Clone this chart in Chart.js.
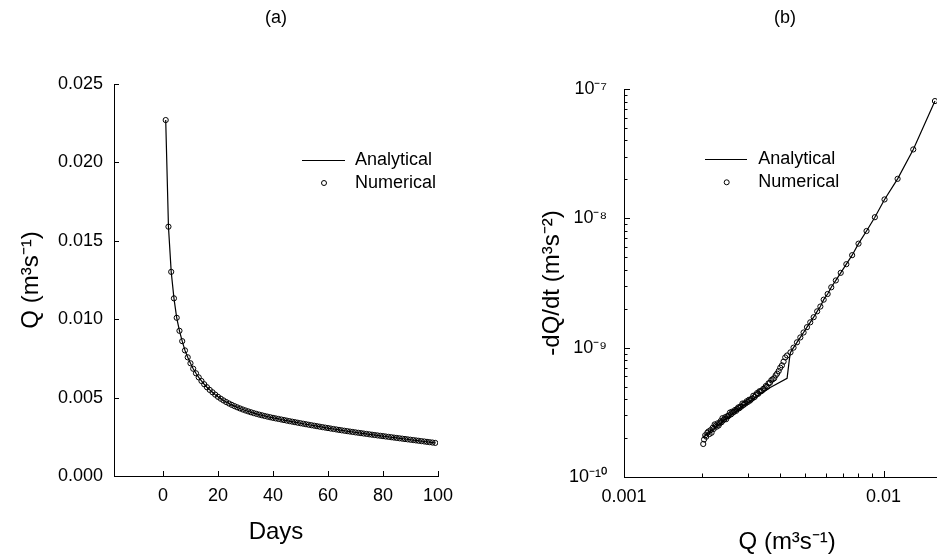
<!DOCTYPE html>
<html><head><meta charset="utf-8">
<script src="https://cdn.jsdelivr.net/npm/chart.js@4/dist/chart.umd.min.js"></script>
<style>
html,body{margin:0;padding:0;background:#fff;overflow:hidden}
#wrap{position:relative;width:937px;height:559px;overflow:hidden;background:#fff}
#ca{position:absolute;left:0;top:0}
#cb{position:absolute;left:470px;top:0}
</style></head><body>
<div id="wrap"><canvas id="ca" width="470" height="559"></canvas><canvas id="cb" width="484" height="559"></canvas></div>
<script>
// ---------- Panel (a): Q vs Days ----------
const days = [1,2,3,4,5,6,7,8,9,10,11,12,13,14,15,16,17,18,19,20,21,22,23,24,25,26,27,28,29,30,
  31,32,33,34,35,36,37,38,39,40,41,42,43,44,45,46,47,48,49,50,51,52,53,54,55,56,57,58,59,60,
  61,62,63,64,65,66,67,68,69,70,71,72,73,74,75,76,77,78,79,80,81,82,83,84,85,86,87,88,89,90,
  91,92,93,94,95,96,97,98,99];
const qDays = [0.02270,0.01590,0.01302,0.01133,0.01009,0.00926,0.00860,0.00801,0.00757,0.00719,
  0.00684,0.00655,0.00629,0.00606,0.00585,0.00566,0.00549,0.00534,0.00519,0.00505,
  0.004930,0.004820,0.004718,0.004624,0.004537,0.004456,0.004380,0.004309,0.004242,0.004179,
  0.004120,0.004064,0.004011,0.003961,0.003914,0.003869,0.003826,0.003785,0.003746,0.003709,
  0.003673,0.003638,0.003603,0.003568,0.003533,0.003499,0.003465,0.003432,0.003399,0.003366,
  0.003333,0.003301,0.003269,0.003238,0.003207,0.003176,0.003145,0.003115,0.003085,0.003056,
  0.003026,0.002997,0.002969,0.002941,0.002913,0.002886,0.002860,0.002834,0.002808,0.002782,
  0.002757,0.002732,0.002708,0.002683,0.002659,0.002635,0.002612,0.002588,0.002565,0.002542,
  0.002519,0.002496,0.002473,0.002450,0.002427,0.002404,0.002381,0.002358,0.002336,0.002313,
  0.002291,0.002268,0.002246,0.002223,0.002201,0.002178,0.002156,0.002133,0.002111];
const xTicksA = [0,20,40,60,80,100];
const xTickLabelsA = ['0','20','40','60','80','100'];
const yTicksA = [0,0.005,0.010,0.015,0.020,0.025];
const yTickLabelsA = ['0.000','0.005','0.010','0.015','0.020','0.025'];

// ---------- Panel (b): -dQ/dt vs Q (log-log) ----------
const qNum = [0.01578,0.01302,0.01133,0.01009,0.00926,0.00860,0.00801,0.00757,0.00719,0.00684,
  0.00655,0.00629,0.00609,0.00588,0.00571,0.00555,0.00538,0.00522,0.00507,0.00492,
  0.00478,0.00464,0.00450,0.00438,0.00425,0.00418,
  0.004120,0.004060,0.004000,0.003945,0.003890,0.003840,0.003790,0.003740,0.003695,0.003650,
  0.003605,0.003560,0.003520,0.003480,0.003440,0.003400,0.003360,0.003325,0.003290,0.003255,
  0.003220,0.003185,0.003150,0.003120,0.003090,0.003060,0.003030,0.003000,0.002970,0.002940,
  0.002910,0.002885,0.002860,0.002830,0.002805,0.002780,0.002755,0.002730,0.002705,0.002680,
  0.002655,0.002630,0.002610,0.002585,0.002560,0.002540,0.002520,0.002500,0.002475,0.002455,
  0.002435,0.002415,0.002395,0.002375,0.002355,0.002335,0.002315,0.002295,0.002275,0.002255,
  0.002235,0.002215,0.002195,0.002175,0.002155,0.002135,0.002115,0.002095,0.002075,0.002055,
  0.002035,0.002020];
const rateNum = [8.07e-8,3.41e-8,2.02e-8,1.40e-8,1.02e-8,7.98e-9,6.37e-9,5.19e-9,4.42e-9,3.79e-9,
  3.31e-9,2.93e-9,2.60e-9,2.35e-9,2.08e-9,1.91e-9,1.72e-9,1.57e-9,1.44e-9,1.31e-9,
  1.20e-9,1.10e-9,1.00e-9,9.2e-10,8.7e-10,8.4e-10,
  7.8e-10,7.3e-10,7.0e-10,6.6e-10,6.3e-10,6.1e-10,5.8e-10,5.7e-10,5.6e-10,5.35e-10,
  5.3e-10,5.0e-10,5.05e-10,4.85e-10,4.8e-10,4.65e-10,4.6e-10,4.6e-10,4.4e-10,4.45e-10,
  4.3e-10,4.15e-10,4.25e-10,4.05e-10,4.0e-10,3.9e-10,3.95e-10,3.8e-10,3.85e-10,3.7e-10,
  3.7e-10,3.6e-10,3.7e-10,3.5e-10,3.5e-10,3.4e-10,3.45e-10,3.35e-10,3.25e-10,3.3e-10,
  3.2e-10,3.15e-10,3.2e-10,3.05e-10,3.15e-10,3.0e-10,2.95e-10,2.95e-10,2.8e-10,2.9e-10,
  2.8e-10,2.75e-10,2.85e-10,2.65e-10,2.7e-10,2.6e-10,2.5e-10,2.6e-10,2.45e-10,2.5e-10,
  2.55e-10,2.35e-10,2.4e-10,2.2e-10,2.3e-10,2.15e-10,2.25e-10,2.2e-10,2.05e-10,2.1e-10,
  1.95e-10,1.8e-10];
const qAna = [0.01578,0.01302,0.01133,0.01009,0.00926,0.00860,0.00801,0.00757,0.00719,0.00684,
  0.00655,0.00629,0.00609,0.00588,0.00571,0.00555,0.00538,0.00522,0.00507,0.00492,
  0.00478,0.00464,0.00450,0.00438,0.00434,0.00425,0.00366,0.00325,0.00288,0.00241,0.00202];
const rateAna = [8.07e-8,3.41e-8,2.02e-8,1.40e-8,1.02e-8,7.98e-9,6.37e-9,5.19e-9,4.42e-9,3.79e-9,
  3.31e-9,2.93e-9,2.60e-9,2.35e-9,2.08e-9,1.91e-9,1.72e-9,1.57e-9,1.44e-9,1.31e-9,
  1.20e-9,1.10e-9,1.00e-9,9.2e-10,8.2e-10,5.8e-10,4.92e-10,4.17e-10,3.55e-10,2.71e-10,2.02e-10];
const xTicksB = [0.001,0.01];
const xTickLabelsB = ['0.001','0.01'];
const yTicksB = [1e-10,1e-9,1e-8,1e-7];
const yTickLabelsB = ['10\u207B\u00B9\u2070','10\u207B\u2079','10\u207B\u2078','10\u207B\u2077'];

const FONT = "'Liberation Sans', Arial, Helvetica, sans-serif";
Chart.defaults.font.family = FONT;
Chart.defaults.color = '#000';

function pts(xs, ys){ return xs.map((x,i)=>({x:x, y:ys[i]})); }
function logTicks(min, max){
  const out = [];
  for (let e = Math.floor(Math.log10(min)); e <= Math.ceil(Math.log10(max)); e++){
    for (let m = 1; m <= 9; m++){
      const v = m * Math.pow(10, e);
      if (v >= min*0.999 && v <= max*1.001) out.push({value: v, major: m === 1});
    }
  }
  return out;
}
function lookup(vals, labels, v){
  const i = vals.findIndex(t => Math.abs(t - v) <= Math.abs(t)*1e-6 + 1e-12);
  return i >= 0 ? labels[i] : '';
}

const inTicks = {
  id: 'inTicks',
  afterDraw(chart, args, o){
    const {ctx, chartArea: a} = chart; const xs = chart.scales.x, ys = chart.scales.y;
    ctx.save(); ctx.strokeStyle = '#000'; ctx.lineWidth = 1;
    for (const t of xs.ticks){
      const p = Math.round(xs.getPixelForValue(t.value)) + 0.5;
      if (p < a.left - 1 || p > a.right + 1) continue;
      const L = t.major ? o.major : o.minor;
      ctx.beginPath(); ctx.moveTo(p, a.bottom); ctx.lineTo(p, a.bottom - L); ctx.stroke();
    }
    for (const t of ys.ticks){
      const p = Math.round(ys.getPixelForValue(t.value)) + 0.5;
      const L = t.major ? o.major : o.minor;
      ctx.beginPath(); ctx.moveTo(a.left, p); ctx.lineTo(a.left + L, p); ctx.stroke();
    }
    ctx.restore();
  }
};
const deco = {
  id: 'deco',
  afterDraw(chart, args, o){
    const ctx = chart.ctx; ctx.save();
    ctx.fillStyle = '#000'; ctx.strokeStyle = '#000';
    ctx.font = '18px ' + FONT; ctx.textAlign = 'center'; ctx.textBaseline = 'middle';
    ctx.fillText(o.panel, o.panelX, o.panelY);
    ctx.lineWidth = 1.2;
    ctx.beginPath(); ctx.moveTo(o.lx0, o.y1); ctx.lineTo(o.lx1, o.y1); ctx.stroke();
    ctx.lineWidth = 1;
    ctx.beginPath(); ctx.arc(o.mx, o.y2, 2.5, 0, Math.PI*2); ctx.stroke();
    ctx.textAlign = 'left';
    ctx.fillText(chart.data.datasets[0].label, o.tx, o.y1);
    ctx.fillText(chart.data.datasets[1].label, o.tx, o.y2);
    ctx.restore();
  }
};

const lineStyle = {borderColor:'#000', borderWidth:1.2, pointRadius:0, showLine:true, tension:0, fill:false};
const pointStyle = {borderColor:'#000', backgroundColor:'rgba(0,0,0,0)', borderWidth:1, pointRadius:2.6, showLine:false, pointHoverRadius:2.6};

new Chart(document.getElementById('ca'), {
  type: 'scatter',
  data: { datasets: [
    Object.assign({label:'Analytical', data: pts(days, qDays)}, lineStyle),
    Object.assign({label:'Numerical', data: pts(days, qDays)}, pointStyle)
  ]},
  options: {
    responsive:false, animation:false, devicePixelRatio:1,
    layout:{padding:{top:84, right:32, left:0, bottom:0}},
    plugins:{legend:{display:false}, tooltip:{enabled:false},
      inTicks:{major:5, minor:5},
      deco:{panel:'(a)', panelX:276, panelY:18, lx0:302, lx1:345, y1:160.5, mx:324, y2:183, tx:355}},
    scales:{
      x:{type:'linear', min:-17.8, max:100,
        afterBuildTicks:(s)=>{ s.ticks = xTicksA.map(v=>({value:v, major:true})); },
        afterFit:(s)=>{ s.height = 83; },
        grid:{display:false, drawTicks:false},
        border:{display:true, color:'#000', width:1},
        ticks:{autoSkip:false, maxRotation:0, padding:9, font:{size:18}, color:'#000',
          callback:(v)=>lookup(xTicksA, xTickLabelsA, v)},
        title:{display:true, text:'Days', font:{size:24}, color:'#000', padding:{top:0, bottom:12}}
      },
      y:{type:'linear', min:0, max:0.025,
        afterBuildTicks:(s)=>{ s.ticks = yTicksA.map(v=>({value:v, major:true})); },
        afterFit:(s)=>{ s.width = 114; },
        grid:{display:false, drawTicks:false},
        border:{display:true, color:'#000', width:1},
        ticks:{autoSkip:false, padding:11, font:{size:18}, color:'#000',
          callback:(v)=>lookup(yTicksA, yTickLabelsA, v)},
        title:{display:true, text:'Q (m\u00B3s\u207B\u00B9)', font:{size:24}, color:'#000', padding:{top:17, bottom:0}}
      }
    }
  },
  plugins:[inTicks, deco]
});

new Chart(document.getElementById('cb'), {
  type: 'scatter',
  data: { datasets: [
    Object.assign({label:'Analytical', data: pts(qAna, rateAna)}, lineStyle),
    Object.assign({label:'Numerical', data: pts(qNum, rateNum)}, pointStyle)
  ]},
  options: {
    responsive:false, animation:false, devicePixelRatio:1,
    layout:{padding:{top:89, right:0, left:0, bottom:0}},
    plugins:{legend:{display:false}, tooltip:{enabled:false},
      inTicks:{major:6, minor:3.5},
      deco:{panel:'(b)', panelX:315, panelY:18, lx0:235, lx1:277, y1:159.5, mx:256.7, y2:182.3, tx:288.3}},
    scales:{
      x:{type:'logarithmic', min:0.001, max:0.0181,
        afterBuildTicks:(s)=>{ s.ticks = logTicks(0.001, 0.0181); },
        afterFit:(s)=>{ s.height = 82; },
        grid:{display:false, drawTicks:false},
        border:{display:true, color:'#000', width:1},
        ticks:{autoSkip:false, maxRotation:0, padding:9, font:{size:18}, color:'#000',
          callback:(v)=>lookup(xTicksB, xTickLabelsB, v)},
        title:{display:true, text:'Q (m\u00B3s\u207B\u00B9)', font:{size:24}, color:'#000', padding:{top:0, bottom:2}}
      },
      y:{type:'logarithmic', min:1e-10, max:1e-7,
        afterBuildTicks:(s)=>{ s.ticks = logTicks(1e-10, 1e-7); },
        afterFit:(s)=>{ s.width = 154; },
        grid:{display:false, drawTicks:false},
        border:{display:true, color:'#000', width:1},
        ticks:{autoSkip:false, padding:17, font:{size:18}, color:'#000',
          callback:(v)=>lookup(yTicksB, yTickLabelsB, v)},
        title:{display:true, text:'-dQ/dt (m\u00B3s\u207B\u00B2)', font:{size:24}, color:'#000', padding:{top:68, bottom:0}}
      }
    }
  },
  plugins:[inTicks, deco]
});
</script>
</body></html>
